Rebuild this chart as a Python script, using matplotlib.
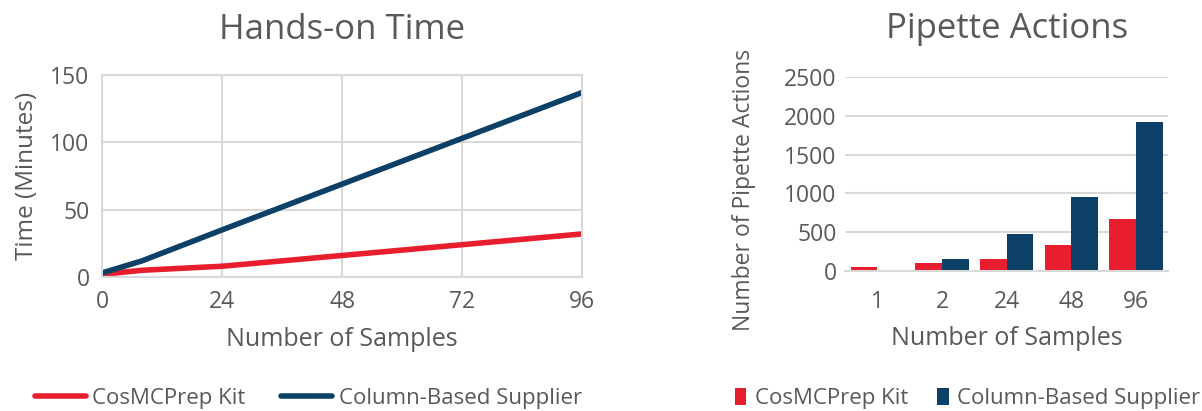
import numpy as np
import matplotlib
matplotlib.use('Agg')
import matplotlib.pyplot as plt

plt.rcParams['font.family'] = ['Open Sans', 'DejaVu Sans']

# Hands-on time (minutes) vs number of samples
samples = [0, 8, 24, 48, 72, 96]
cosmc_time = [2, 5, 8, 16, 24, 32]
column_time = [3, 12, 35, 69, 103, 137]

# Pipette actions per sample count
bar_labels = ['1', '2', '24', '48', '96']
cosmc_pipette = [50, 100, 160, 330, 670]
column_pipette = [15, 150, 475, 955, 1915]

series_names = ['CosMCPrep Kit', 'Column-Based Supplier']
red = '#e81e2f'
navy = '#0c4066'
text_gray = '#595959'
grid_gray = '#d9d9d9'

fig = plt.figure(figsize=(12.02, 4.11), dpi=100)

# line chart
ax1 = fig.add_axes([0.0849, 0.326, 0.3994, 0.4915])
ax1.plot(samples, cosmc_time, color=red, lw=4, solid_capstyle='round', label=series_names[0])
ax1.plot(samples, column_time, color=navy, lw=4, solid_capstyle='round', label=series_names[1])
ax1.set_xlim(0, 96)
ax1.set_ylim(0, 150)
ax1.set_xticks([0, 24, 48, 72, 96])
ax1.set_yticks([0, 50, 100, 150])
ax1.grid(True, color=grid_gray, lw=1.5)
ax1.set_axisbelow(True)
for s in ax1.spines.values():
    s.set_color(grid_gray)
    s.set_linewidth(1.5)
ax1.tick_params(length=0, labelsize=16.5, colors=text_gray, pad=9)
ax1.set_xlabel('Number of Samples', fontsize=18, color=text_gray, labelpad=10)
ax1.set_ylabel('Time (Minutes)', fontsize=17.5, color=text_gray, labelpad=8)
ax1.set_title('Hands-on Time', fontsize=25, color=text_gray, pad=26)
ax1.legend(loc='upper center', bbox_to_anchor=(0.43, -0.45), ncol=2, frameon=False,
           fontsize=16, labelcolor=text_gray, handlelength=2.3, columnspacing=1.6,
           handletextpad=0.3)

# bar chart
ax2 = fig.add_axes([0.703, 0.3406, 0.269, 0.4721])
x = np.arange(len(bar_labels))
w = 0.41
ax2.bar(x - w / 2, cosmc_pipette, width=w, color=red, label=series_names[0])
ax2.bar(x + w / 2, column_pipette, width=w, color=navy, label=series_names[1])
ax2.set_xlim(-0.5, len(bar_labels) - 0.5)
ax2.set_ylim(0, 2500)
ax2.set_xticks(x)
ax2.set_xticklabels(bar_labels)
ax2.set_yticks(np.arange(0, 2501, 500))
ax2.yaxis.grid(True, color=grid_gray, lw=1.5)
ax2.set_axisbelow(True)
for side in ['top', 'right', 'left']:
    ax2.spines[side].set_visible(False)
ax2.spines['bottom'].set_color(grid_gray)
ax2.spines['bottom'].set_linewidth(1.5)
ax2.tick_params(length=0, labelsize=16.5, colors=text_gray, pad=14)
ax2.tick_params(axis='y', pad=6)
ax2.set_xlabel('Number of Samples', fontsize=18, color=text_gray, labelpad=8)
ax2.set_ylabel('Number of Pipette Actions', fontsize=16.5, color=text_gray)
ax2.yaxis.set_label_coords(-0.275, 0.42)
ax2.set_title('Pipette Actions', fontsize=25, color=text_gray, pad=28)
ax2.legend(loc='upper center', bbox_to_anchor=(0.38, -0.5), ncol=2, frameon=False,
           fontsize=16, labelcolor=text_gray, handlelength=0.5, handleheight=0.8,
           columnspacing=1.3, handletextpad=0.4)

fig.savefig('out.png', dpi=100)
